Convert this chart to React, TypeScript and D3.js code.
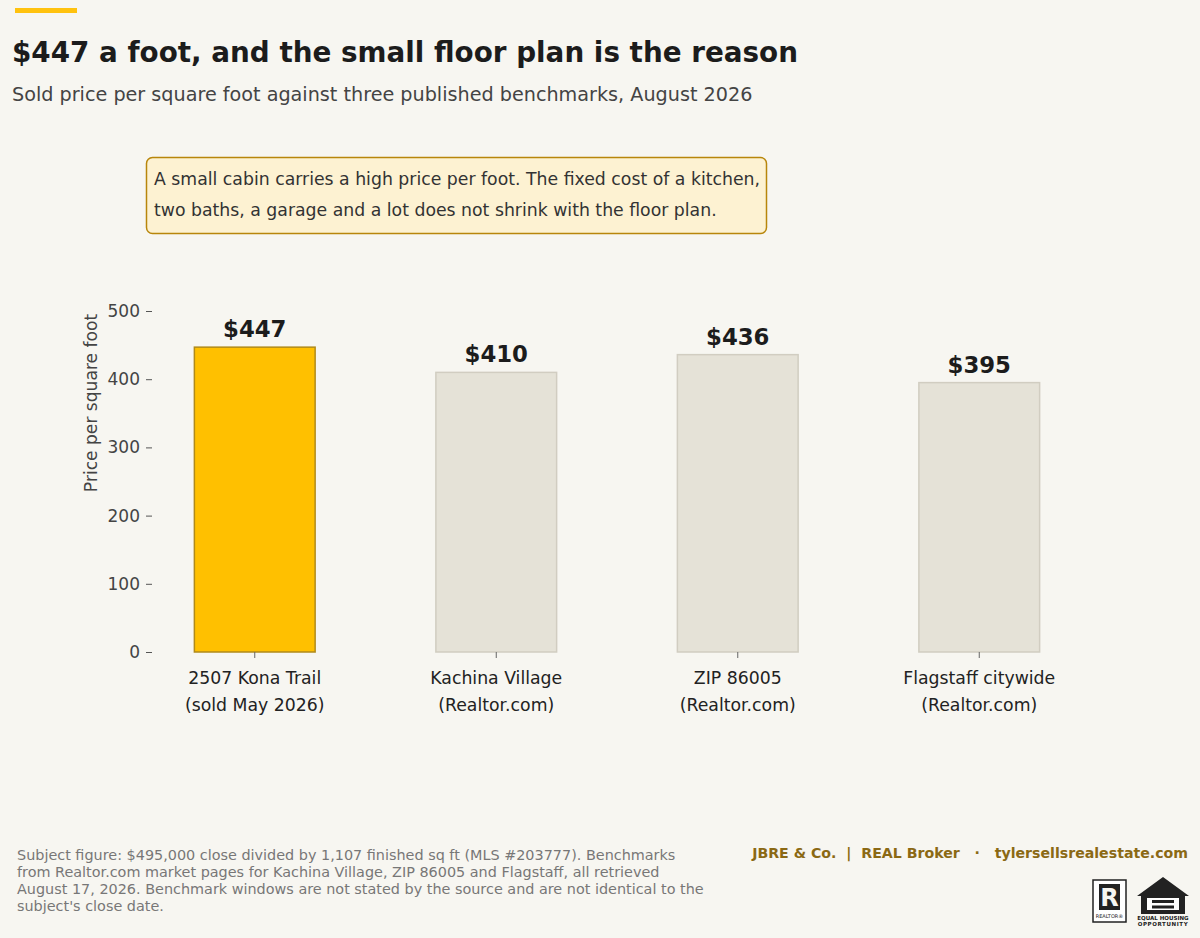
import React, { useEffect, useRef } from 'react'
import * as d3 from 'd3'

const categories = ['kona', 'kachina', 'zip', 'flagstaff']
const labelLines = [
	['2507 Kona Trail', '(sold May 2026)'],
	['Kachina Village', '(Realtor.com)'],
	['ZIP 86005', '(Realtor.com)'],
	['Flagstaff citywide', '(Realtor.com)']
]
const pricePerSqFt = [447, 410, 436, 395]
const yTicks = [0, 100, 200, 300, 400, 500]

const title = '$447 a foot, and the small floor plan is the reason'
const subtitle = 'Sold price per square foot against three published benchmarks, August 2026'
const noteLines = [
	'A small cabin carries a high price per foot. The fixed cost of a kitchen,',
	'two baths, a garage and a lot does not shrink with the floor plan.'
]
const footnoteLines = [
	'Subject figure: $495,000 close divided by 1,107 finished sq ft (MLS #203777). Benchmarks',
	'from Realtor.com market pages for Kachina Village, ZIP 86005 and Flagstaff, all retrieved',
	'August 17, 2026. Benchmark windows are not stated by the source and are not identical to the',
	"subject's close date."
]
const brand = 'JBRE & Co.  |  REAL Broker   ·   tylersellsrealestate.com'

const W = 1200
const H = 938
const FONT = '"DejaVu Sans", Verdana, sans-serif'

const App = () => {
	const yAxisRef = useRef<SVGGElement>(null)

	const x = d3
		.scaleBand<string>()
		.domain(categories)
		.range([134, 1100])
		.paddingInner(0.5)
		.paddingOuter(0.25)

	const y = d3.scaleLinear().domain([0, 500]).range([652, 311])

	useEffect(() => {
		if (!yAxisRef.current) return
		const axis = d3.axisLeft(y).tickValues(yTicks).tickSize(6).tickPadding(6)
		const g = d3.select(yAxisRef.current)
		g.call(axis)
		g.select('.domain').remove()
		g.selectAll('line').attr('stroke', '#555')
		g.selectAll('text')
			.attr('fill', '#444')
			.style('font-size', '17px')
			.style('font-family', FONT)
	}, [])

	return (
		<div style={{ position: 'fixed', left: 0, top: 0 }}>
			<svg width={W} height={H} style={{ display: 'block', fontFamily: FONT }}>
				<rect width={W} height={H} fill="#f7f6f1" />
				{/* accent */}
				<rect x={15} y={8} width={62} height={5} fill="#ffc20e" />

				<text x={12} y={62} fontSize={27.8} fontWeight="bold" fill="#1c1c1c">
					{title}
				</text>
				<text x={12} y={101} fontSize={19.2} fill="#444">
					{subtitle}
				</text>

				{/* note */}
				<rect x={146.5} y={157.5} width={620} height={76} rx={6} fill="#fdf2d2" stroke="#b8860b" strokeWidth={1.5} />
				{noteLines.map((l, i) => (
					<text key={i} x={154} y={185 + i * 31} fontSize={17.3} fill="#333">
						{l}
					</text>
				))}

				{/* bars */}
				{pricePerSqFt.map((v, i) => {
					const c = categories[i]
					const first = i === 0
					return (
						<g key={c}>
							<rect
								x={x(c)}
								y={y(v)}
								width={x.bandwidth()}
								height={y(0) - y(v)}
								fill={first ? '#ffc000' : '#e5e2d7'}
								stroke={first ? '#b08a1a' : '#d1cdc1'}
								strokeWidth={1.5}
							/>
							<text
								x={x(c)! + x.bandwidth() / 2}
								y={y(v) - 10}
								textAnchor="middle"
								fontSize={22.8}
								fontWeight="bold"
								fill="#1c1c1c"
							>
								${v}
							</text>
						</g>
					)
				})}

				{/* x axis */}
				{categories.map((c, i) => {
					const cx = x(c)! + x.bandwidth() / 2
					return (
						<g key={c}>
							<line x1={cx} x2={cx} y1={652} y2={658} stroke="#666" />
							{labelLines[i].map((l, j) => (
								<text key={j} x={cx} y={684 + j * 27} textAnchor="middle" fontSize={17.3} fill="#222">
									{l}
								</text>
							))}
						</g>
					)
				})}

				<g ref={yAxisRef} transform="translate(152,0)" />
				<text
					transform="translate(97,403) rotate(-90)"
					textAnchor="middle"
					fontSize={17.1}
					fill="#444"
				>
					Price per square foot
				</text>

				{/* footer */}
				{footnoteLines.map((l, i) => (
					<text key={i} x={17} y={860 + i * 17} fontSize={14.4} fill="#777">
						{l}
					</text>
				))}
				<text
					x={1188}
					y={858}
					textAnchor="end"
					fontSize={14.15}
					fontWeight="bold"
					fill="#8b6914"
					style={{ whiteSpace: 'pre' }}
				>
					{brand}
				</text>

				{/* realtor mark */}
				<g>
					<rect x={1093} y={880} width={33} height={42} fill="#fff" stroke="#222" strokeWidth={1.5} />
					<rect x={1099} y={884} width={21} height={26} fill="#222" />
					<text x={1109.5} y={906} textAnchor="middle" fontSize={24} fontWeight="bold" fill="#f7f6f1">
						R
					</text>
					<text x={1109.5} y={918} textAnchor="middle" fontSize={5} fill="#222">
						REALTOR®
					</text>
				</g>
				{/* equal housing mark */}
				<g>
					<path d="M1163,877 L1189,896 L1185,896 L1185,914 L1141,914 L1141,896 L1137,896 Z" fill="#222" />
					<rect x={1147} y={898} width={32} height={12} fill="#fff" />
					<rect x={1152} y={900} width={22} height={3} fill="#222" />
					<rect x={1152} y={905.5} width={22} height={3} fill="#222" />
					<text x={1163} y={920} textAnchor="middle" fontSize={5.5} fontWeight="bold" fill="#222">
						EQUAL HOUSING
					</text>
					<text x={1163} y={926} textAnchor="middle" fontSize={5.5} fontWeight="bold" fill="#222" letterSpacing={0.6}>
						OPPORTUNITY
					</text>
				</g>
			</svg>
		</div>
	)
}

export default App
